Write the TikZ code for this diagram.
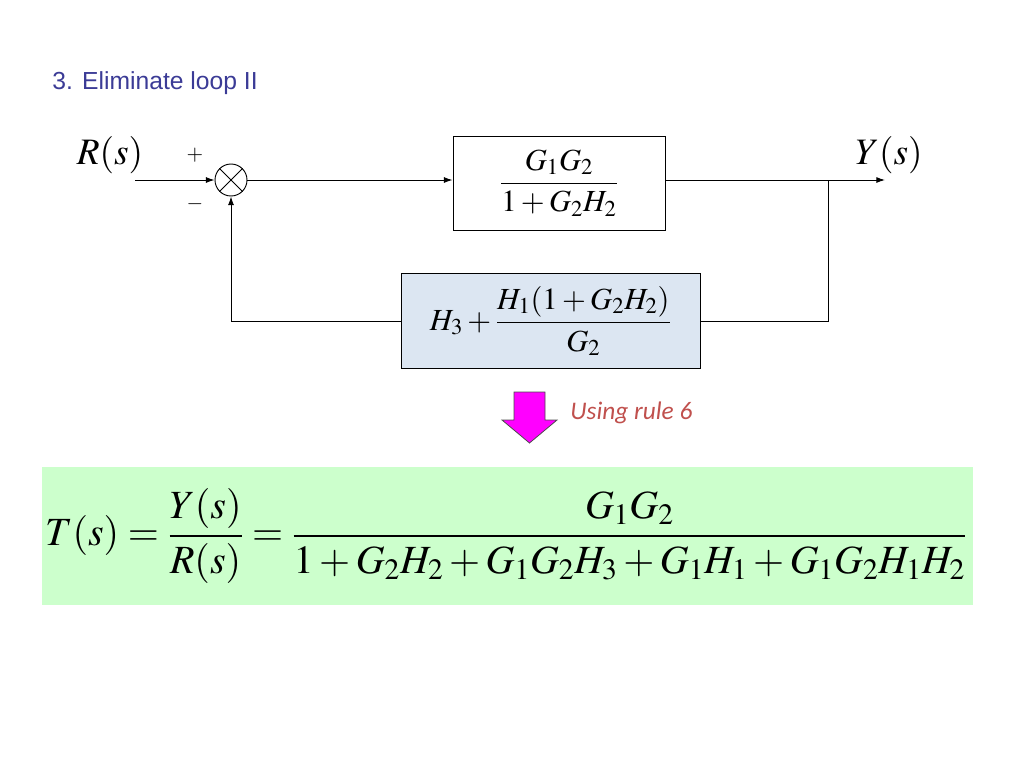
\documentclass[tikz,border=0pt]{standalone}
\usepackage{mathptmx}
\usepackage[no-math]{fontspec}
\newfontfamily\titlefont{Liberation Sans}
\newfontfamily\notefont{Carlito}
\usepackage{tikz}
\usetikzlibrary{arrows.meta}

\definecolor{titleblue}{RGB}{59,59,150}
\definecolor{notered}{RGB}{192,80,77}
\definecolor{fbblue}{RGB}{220,230,242}
\definecolor{tfgreen}{RGB}{204,255,204}
\definecolor{rulemagenta}{RGB}{255,0,255}

\begin{document}
\begin{tikzpicture}[x=0.75pt,y=-0.75pt, line width=0.7pt,
	sigarrow/.style={-{Latex[length=6.5pt,width=4.5pt]}},
	block/.style={draw, inner sep=0pt, font=\fontsize{23}{27}\selectfont},
	sumnode/.style={draw, circle, minimum size=24pt, inner sep=0pt},
	sig/.style={inner sep=0pt, font=\fontsize{28}{32}\selectfont},
	sgn/.style={inner sep=0pt, font=\fontsize{16}{18}\selectfont}]
	\useasboundingbox (0,0) rectangle (1024,768);
	%\draw[help lines] (0,0) grid[step=100] (1024,768);
	\node[anchor=west, inner sep=0pt, text=titleblue, font=\titlefont\fontsize{18.5}{22}\selectfont] (title) at (52,83) {3. Eliminate loop II};

	% forward path
	\coordinate (in) at (135,180);
	\node[sumnode] (sum) at (231,180) {};
	\draw (sum.north west) -- (sum.south east) (sum.north east) -- (sum.south west);
	\node[block, minimum width=159pt, minimum height=70.5pt] (fwd) at (559,183) {$\displaystyle\frac{G_1G_2}{1+G_2H_2}$};
	\coordinate (branch) at (828,180);
	\coordinate (out) at (885,180);
	\draw[sigarrow] (in) -- (sum.west);
	\draw[sigarrow] (sum.east) -- (sum.east -| fwd.west);
	\draw[sigarrow] (fwd.east |- branch) -- (out);

	% feedback path
	\node[block, fill=fbblue, minimum width=224.25pt, minimum height=71.25pt] (fb) at (550.5,321) {$\displaystyle H_3+\frac{H_1(1+G_2H_2)}{G_2}$};
	\draw (branch) |- (fb.east);
	\draw[sigarrow] (fb.west) -| (sum.south);

	% signals
	\node[sig] (R) at (110,155) {$R(s)$};
	\node[sig] (Y) at (889,155) {$Y(s)$};
	\node[sgn] (plus) at (195,155) {$+$};
	\node[sgn] (minus) at (195,204) {$-$};

	% rule arrow
	\filldraw[fill=rulemagenta, draw=black!70, line width=0.6pt] (514,392) -- (545,392) -- (545,420) -- (557,420) -- (529.5,443) -- (502,420) -- (514,420) -- cycle;
	\node[anchor=west, inner sep=0pt, text=notered, font=\notefont\itshape\fontsize{19}{22}\selectfont] (rule) at (570,413) {Using rule 6};

	% result
	\fill[tfgreen] (42,467) rectangle (973,605);
	\node[font=\fontsize{30}{36}\selectfont] (tf) at (506,536) {$\displaystyle T(s)=\frac{Y(s)}{R(s)}=\frac{G_1G_2}{1+G_2H_2+G_1G_2H_3+G_1H_1+G_1G_2H_1H_2}$};
\end{tikzpicture}
\end{document}
